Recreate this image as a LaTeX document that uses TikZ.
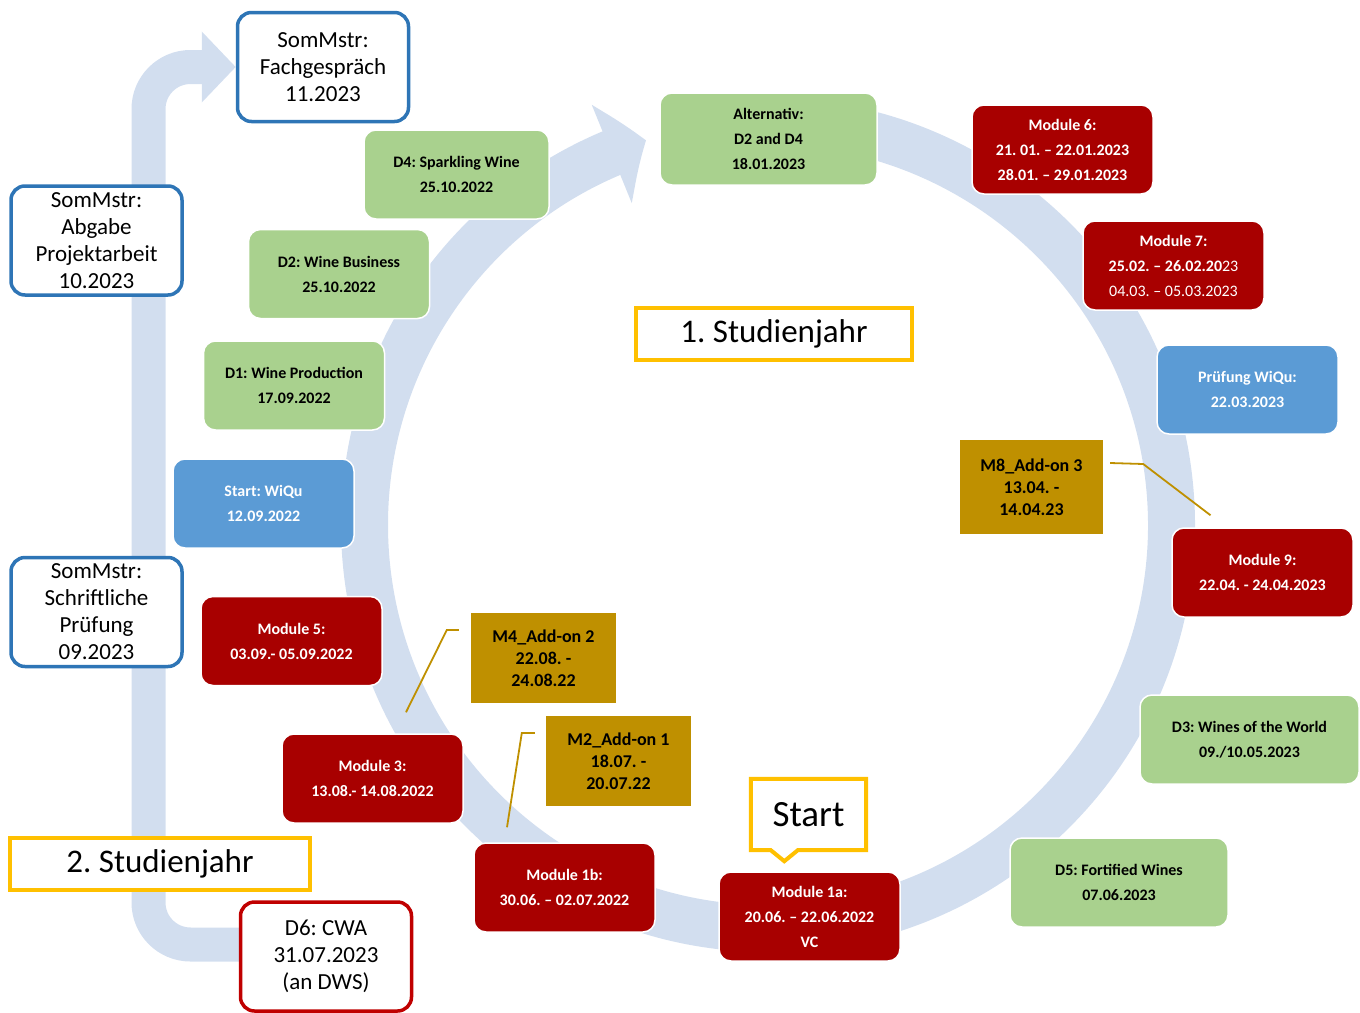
\documentclass[tikz,border=0pt]{standalone}
\usepackage{fontspec}
\setmainfont{Carlito}
\usepackage{tikz}
\usetikzlibrary{shapes,arrows.meta,bending,positioning,backgrounds}
\frenchspacing
\definecolor{ringblue}{RGB}{210, 222, 239}
\definecolor{wgreen}{RGB}{169, 209, 142}
\definecolor{wred}{RGB}{168, 0, 0}
\definecolor{wblue}{RGB}{91, 155, 213}
\definecolor{sblue}{RGB}{46, 117, 182}
\definecolor{wgold}{RGB}{191, 144, 0}
\definecolor{wyellow}{RGB}{255, 192, 0}
\definecolor{dred}{RGB}{192, 0, 0}
\tikzstyle{card} = [rectangle, rounded corners=12pt, draw=white, line width=1.5pt, align=center, inner sep=0pt, minimum width=181pt, minimum height=89pt, font=\bfseries\fontsize{16}{25}\selectfont]
\tikzstyle{greenbox} = [card, fill=wgreen, text=black]
\tikzstyle{redbox} = [card, fill=wred, text=white]
\tikzstyle{bluebox} = [card, fill=wblue, text=white]
\tikzstyle{goldbox} = [rectangle, fill=wgold, draw=none, align=center, inner sep=0pt, minimum width=145pt, minimum height=90pt, text=black, font=\bfseries\fontsize{18}{22}\selectfont]
\tikzstyle{sombox} = [rectangle, rounded corners=14pt, draw=sblue, line width=3.5pt, fill=white, align=center, inner sep=0pt, minimum width=171pt, minimum height=109pt, font=\fontsize{23}{27}\selectfont]
\tikzstyle{yearbox} = [rectangle, draw=wyellow, line width=4pt, fill=white, inner sep=0pt, minimum width=300pt, minimum height=52pt, font=\fontsize{33}{40}\selectfont]
\tikzstyle{textonly} = [draw=none, fill=none, inner sep=0pt, font=\fontsize{37}{44}\selectfont]
\tikzstyle{callout} = [draw=wyellow, line width=4pt, fill=white, line join=miter]
\tikzstyle{ringband} = [draw=ringblue, line width=47pt, -{Triangle[length=37pt, width=104pt, bend]}]
\tikzstyle{loopband} = [draw=ringblue, line width=34pt, rounded corners=42pt, -{Triangle[length=34pt, width=69pt]}]
\tikzstyle{cline} = [draw=wgold, line width=1.8pt]

\begin{document}
\begin{tikzpicture}[x=1pt, y=-1pt]

\useasboundingbox (0,0) rectangle (1360,1012);

% second year =============================

\node[sombox] (somfach) at (323,67) {SomMstr:\\Fachgespräch\\11.2023};
\node[sombox] (somabg) at (96.5,240.5) {SomMstr:\\Abgabe\\Projektarbeit\\10.2023};
\node[sombox] (somschr) at (96.5,612) {SomMstr:\\Schriftliche\\Prüfung\\09.2023};
\node[yearbox] (year2) at (160,864) {2. Studienjahr};
\node[sombox, draw=dred] (d6) at (326,956.5) {D6: CWA\\31.07.2023\\(an DWS)};

% first year, left half
\node[yearbox, minimum width=276pt] (year1) at (774,334) {1. Studienjahr};
\node[greenbox, minimum width=217pt, minimum height=92pt] (alt) at (768.5,139) {Alternativ:\\D2 and D4\\18.01.2023};
\node[greenbox, minimum width=185pt] (d4) at (456.5,174.5) {D4: Sparkling Wine\\25.10.2022};
\node[greenbox] (d2) at (339,274) {D2: Wine Business\\25.10.2022};
\node[greenbox] (d1) at (294,385.5) {D1: Wine Production\\17.09.2022};
\node[bluebox] (wiqu) at (263.5,503.5) {Start: WiQu\\12.09.2022};
\node[redbox] (m5) at (291.5,641) {Module 5:\\03.09.- 05.09.2022};
\node[redbox] (m3) at (372.5,778.5) {Module 3:\\13.08.- 14.08.2022};
\node[redbox] (m1b) at (564.5,887.5) {Module 1b:\\30.06. – 02.07.2022};
\node[redbox] (m1a) at (809.5,916.5) {Module 1a:\\20.06. – 22.06.2022\\VC};

% first year, right half
\node[greenbox, minimum width=218pt] (d5) at (1119,882.5) {D5: Fortified Wines\\07.06.2023};
\node[greenbox, minimum width=219pt] (d3) at (1249.5,739.5) {D3: Wines of the World\\09./10.05.2023};
\node[redbox] (m9) at (1262.5,572.5) {Module 9:\\22.04. - 24.04.2023};
\node[bluebox] (pwiqu) at (1247.5,389.5) {Prüfung WiQu:\\22.03.2023};
\node[redbox] (m7) at (1173.5,265.5) {Module 7:\\25.02. – 26.02.20{\mdseries 23}\\{\mdseries 04.03. – 05.03.2023}};
\node[redbox] (m6) at (1062.5,149.5) {Module 6:\\21. 01. – 22.01.2023\\28.01. – 29.01.2023};

% add-ons
\node[goldbox] (add2) at (543.5,658) {M4\_Add-on 2\\22.08. -\\24.08.22};
\node[goldbox] (add1) at (618.5,761) {M2\_Add-on 1\\18.07. -\\20.07.22};
\node[goldbox, minimum width=143pt, minimum height=94pt] (add3) at (1031.5,487) {M8\_Add-on 3\\13.04. -\\14.04.23};

%start label
\node[textonly, minimum width=115pt, minimum height=71pt] (start) at (808.5,814.5) {};
\draw[callout] (start.north west) -- (start.north east) -- (start.south east) -- ([shift={(47,0)}]start.south west) -- ([shift={(33.5,11)}]start.south west) -- ([shift={(20,0)}]start.south west) -- (start.south west) -- cycle;
\node[textonly] (starttext) at (start) {Start};

% ring and loop ============================

\coordinate (ringc) at (768,525);

\begin{scope}[on background layer]
\path[ringband] (ringc) ++(-95:403.5) arc[start angle=-95, end angle=252.4, radius=403.5];
\path[loopband] ([shift={(0,-12)}]d6.center) -- (148.5,944.5) -- (148.5,67) -- (somfach.west);
\end{scope}

% add-on pointers
\coordinate (add3tip) at ([shift={(-52,-12)}]m9.north);
\coordinate (add2tip) at ([shift={(33.5,-21)}]m3.north);
\coordinate (add1tip) at ([shift={(-57.5,-15)}]m1b.north);

\path[cline] ([shift={(7,-24)}]add3.east) -- ++(33,1) -- (add3tip);
\path[cline] ([shift={(-12,-28)}]add2.west) -- ++(-12,0) -- (add2tip);
\path[cline] ([shift={(-11,-28)}]add1.west) -- ++(-13,0) -- (add1tip);

\end{tikzpicture}
\end{document}
